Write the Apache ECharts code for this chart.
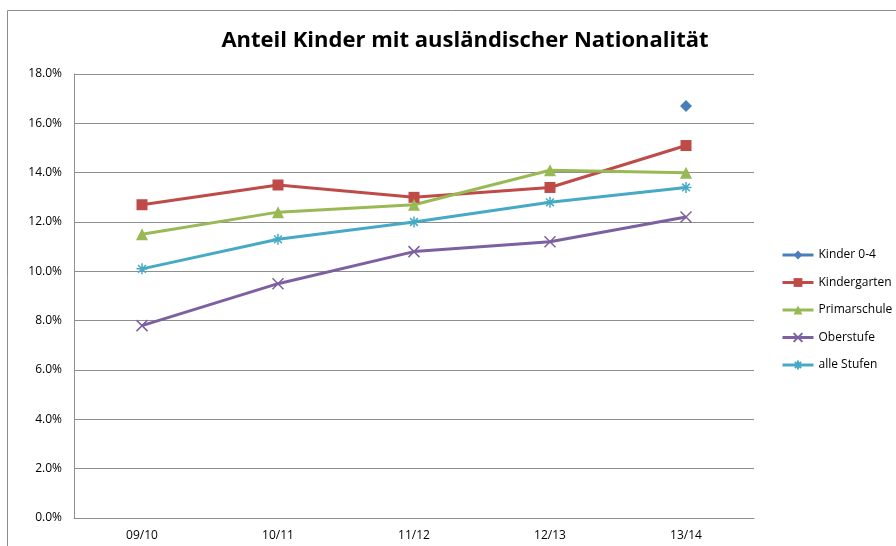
<!DOCTYPE html>
<html lang="de">
<head>
  <meta charset="utf-8">
  <title>Anteil Kinder mit ausländischer Nationalität</title>
  <style>
    * { margin: 0; padding: 0; }
    #chart-container { width: 896px; height: 546px; overflow: hidden; background: #fff; }
  </style>
</head>
<body>
  <div id="chart-container"></div>
  <script src="https://cdn.jsdelivr.net/npm/echarts@6/dist/echarts.min.js"></script>
  <script>
    var categories = ['09/10', '10/11', '11/12', '12/13', '13/14'];
    var kinder04 = [null, null, null, null, 16.7];
    var kindergarten = [12.7, 13.5, 13.0, 13.4, 15.1];
    var primarschule = [11.5, 12.4, 12.7, 14.1, 14.0];
    var oberstufe = [7.8, 9.5, 10.8, 11.2, 12.2];
    var alleStufen = [10.1, 11.3, 12.0, 12.8, 13.4];

    var crossPath = 'path://M0,0L10,10M10,0L0,10';
    var starPath = 'path://M0,5L10,5M5,0L5,10M1.5,1.5L8.5,8.5M8.5,1.5L1.5,8.5';

    var dom = document.getElementById('chart-container');
    var myChart = echarts.init(dom, null, { renderer: 'canvas' });

    function lineSeries(name, data, color, symbol, size, stroked) {
      return {
        name: name,
        type: 'line',
        data: data,
        symbol: symbol,
        symbolSize: size,
        showAllSymbol: true,
        connectNulls: false,
        lineStyle: { color: color, width: 3 },
        itemStyle: stroked
          ? { color: color, borderColor: color, borderWidth: 1.5 }
          : { color: color, borderWidth: 0 },
        emphasis: { disabled: true }
      };
    }

    var option = {
      backgroundColor: '#fff',
      animation: false,
      title: {
        text: 'Anteil Kinder mit ausländischer Nationalität',
        left: 460,
        textAlign: 'center',
        top: 25,
        textStyle: {
          fontFamily: 'Open Sans',
          fontSize: 22,
          fontWeight: 'bold',
          color: '#000'
        }
      },
      graphic: [{
        type: 'rect',
        shape: { x: 7.5, y: 10.5, width: 900, height: 560 },
        style: { fill: 'none', stroke: '#8c8c8c', lineWidth: 1 },
        silent: true
      }],
      legend: {
        orient: 'vertical',
        left: 776,
        top: 244,
        itemWidth: 31,
        itemHeight: 11,
        itemGap: 15.5,
        lineStyle: { width: 3 },
        textStyle: { fontFamily: 'Open Sans', fontSize: 12, color: '#000' },
        data: ['Kinder 0-4', 'Kindergarten', 'Primarschule', 'Oberstufe', 'alle Stufen']
      },
      grid: { left: 74, right: 142, top: 74, bottom: 28 },
      xAxis: {
        type: 'category',
        data: categories,
        boundaryGap: true,
        axisLine: { lineStyle: { color: '#8e8e8e' } },
        axisTick: { show: false },
        axisLabel: { color: '#000', fontFamily: 'Open Sans', fontSize: 12, margin: 12 }
      },
      yAxis: {
        type: 'value',
        min: 0,
        max: 18,
        interval: 2,
        axisLine: { show: true, lineStyle: { color: '#8e8e8e' } },
        axisTick: { show: false },
        splitLine: { lineStyle: { color: '#8e8e8e' } },
        axisLabel: {
          color: '#000',
          fontFamily: 'Open Sans',
          fontSize: 12,
          margin: 12,
          formatter: function (v) { return v.toFixed(1) + '%'; }
        }
      },
      series: [
        lineSeries('Kinder 0-4', kinder04, '#4a7ebb', 'diamond', 12, false),
        lineSeries('Kindergarten', kindergarten, '#be4b48', 'rect', 11, false),
        lineSeries('Primarschule', primarschule, '#98b954', 'triangle', 12, false),
        lineSeries('Oberstufe', oberstufe, '#7d60a0', crossPath, 11, true),
        lineSeries('alle Stufen', alleStufen, '#46aac5', starPath, 11, true)
      ]
    };

    myChart.setOption(option);
    window.addEventListener('resize', myChart.resize);
  </script>
</body>
</html>
